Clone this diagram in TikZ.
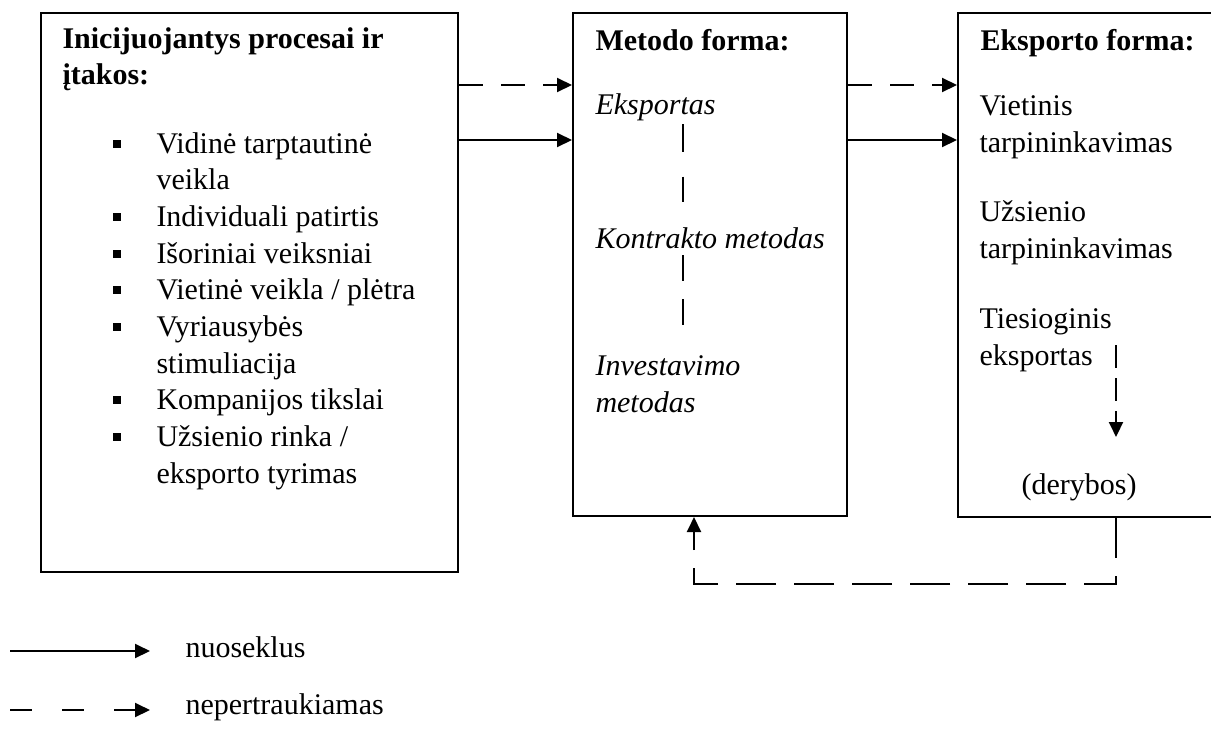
\documentclass[tikz,border=0pt]{standalone}
\usepackage{fontspec}
\setmainfont{Liberation Serif}
\usetikzlibrary{arrows.meta,fit}
\begin{document}
\begin{tikzpicture}[x=0.4pt,y=-0.4pt,
  box/.style={draw, line width=0.8pt, inner sep=0pt, rectangle},
  lbl/.style={anchor=base west, inner sep=0pt, font=\fontsize{12}{14}\selectfont},
  hd/.style={lbl, font=\fontsize{12}{14}\selectfont\bfseries},
  itl/.style={lbl, font=\fontsize{12}{14}\selectfont\itshape},
  tip/.style={-{Triangle[length=6pt,width=5.6pt]}},
  link/.style={line width=0.8pt, tip},
  gap/.style={link, dash pattern=on 9.6pt off 7.2pt},
  bul/.style={fill, inner sep=0pt, minimum size=3.2pt, rectangle}
]
\useasboundingbox (0,0) rectangle (1211,733);
\clip (0,0) rectangle (1211,733);

% the three frames
\node[box, fit={(41,13) (458,572)}] (b1) {};
\node[box, fit={(573,13) (847,516)}] (b2) {};
\node[box, fit={(958,13) (1230,517)}] (b3) {};

% initiating processes
\node[hd] (h1a) at (62,48) {Inicijuojantys procesai ir};
\node[hd] (h1b) at (62,84) {įtakos:};
\node[lbl] (i1a) at (156,153)   {Vidinė tarptautinė};
\node[lbl] (i1b) at (156,189.7) {veikla};
\node[lbl] (i2)  at (156,226.4) {Individuali patirtis};
\node[lbl] (i3)  at (156,263.1) {Išoriniai veiksniai};
\node[lbl] (i4)  at (156,299.8) {Vietinė veikla / plėtra};
\node[lbl] (i5a) at (156,336.5) {Vyriausybės};
\node[lbl] (i5b) at (156,373.2) {stimuliacija};
\node[lbl] (i6)  at (156,409.9) {Kompanijos tikslai};
\node[lbl] (i7a) at (156,446.6) {Užsienio rinka /};
\node[lbl] (i7b) at (156,483.3) {eksporto tyrimas};
\foreach \n/\y in {1/153,2/226.4,3/263.1,4/299.8,5/336.5,6/409.9,7/446.6}
  \node[bul] (p\n) at (117,\y-9.5) {};

% method forms
\node[hd]  (h2)  at (595,50)  {Metodo forma:};
\node[itl] (m1)  at (595,114) {Eksportas};
\node[itl] (m2)  at (595,248) {Kontrakto metodas};
\node[itl] (m3a) at (595,375) {Investavimo};
\node[itl] (m3b) at (595,412) {metodas};

% export forms
\node[hd]  (h3)  at (980,50)  {Eksporto forma:};
\node[lbl] (e1a) at (979,115) {Vietinis};
\node[lbl] (e1b) at (979,152) {tarpininkavimas};
\node[lbl] (e2a) at (979,221) {Užsienio};
\node[lbl] (e2b) at (979,258) {tarpininkavimas};
\node[lbl] (e3a) at (979,328) {Tiesioginis};
\node[lbl] (e3b) at (979,365) {eksportas};
\node[lbl, anchor=base] (e4) at (1079,494) {(derybos)};

% links between frames
\draw[gap]  (b1.east |- 0,85)  -- (b2.west |- 0,85);
\draw[link] (b1.east |- 0,140) -- (b2.west |- 0,140);
\draw[gap]  (b2.east |- 0,85)  -- (b3.west |- 0,85);
\draw[link] (b2.east |- 0,140) -- (b3.west |- 0,140);

% dashed spine through the method forms
\coordinate (s1) at (683,124);
\coordinate (s2) at (683,202);
\coordinate (s3) at (683,255);
\coordinate (s4) at (683,325);
\draw[line width=0.8pt, dash pattern=on 11pt off 10pt] (s1) -- (s2);
\draw[line width=0.8pt, dash pattern=on 10.4pt off 7.2pt] (s3) -- (s4);

% direct export towards negotiations
\coordinate (d1) at (1116,345);
\coordinate (d2) at (1116,437);
\draw[link, dash pattern=on 9.2pt off 4pt] (d1) -- (d2);

% feedback loop
\draw[link, dash pattern=on 16pt off 7.2pt]
  (b3.south -| 1116,0) -- (1116,584) -- (694,584) -- (b2.south -| 694,0);

% legend
\coordinate (la) at (10,651);
\coordinate (lb) at (150,651);
\coordinate (lc) at (10,710);
\coordinate (ld) at (150,710);
\draw[link] (la) -- (lb);
\draw[link, dash pattern=on 8.8pt off 12pt] (lc) -- (ld);
\node[lbl] (t1) at (185,657) {nuoseklus};
\node[lbl] (t2) at (185,714) {nepertraukiamas};
\end{tikzpicture}
\end{document}
